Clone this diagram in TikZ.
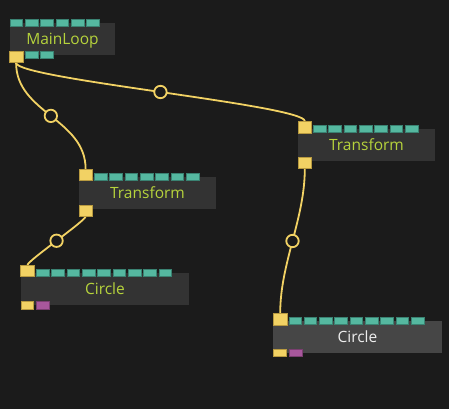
\documentclass[tikz,border=0pt]{standalone}
\usepackage{fontspec}
\setmainfont{Open Sans}
\definecolor{bg}{HTML}{1B1B1B}
\definecolor{body}{HTML}{333333}
\definecolor{bodysel}{HTML}{464646}
\definecolor{teal}{HTML}{55B8A0}
\definecolor{tealdk}{HTML}{3A8272}
\definecolor{yel}{HTML}{F2D264}
\definecolor{yeldk}{HTML}{B89A40}
\definecolor{mag}{HTML}{A8579C}
\definecolor{magdk}{HTML}{7A3E70}
\definecolor{lbl}{HTML}{B6D33C}
\definecolor{lblsel}{HTML}{EDEDED}
\begin{document}
\begin{tikzpicture}[x=1pt,y=-1pt,
  tealp/.style={rectangle, fill=teal, draw=tealdk, line width=0.5pt, inner sep=0pt, minimum width=12.6pt, minimum height=7.4pt},
  smallyel/.style={rectangle, fill=yel, draw=yeldk, line width=0.5pt, inner sep=0pt, minimum width=12.6pt, minimum height=7.4pt},
  magp/.style={rectangle, fill=mag, draw=magdk, line width=0.5pt, inner sep=0pt, minimum width=13pt, minimum height=7.4pt},
  bigyel/.style={rectangle, fill=yel, draw=yeldk, line width=0.5pt, inner sep=0pt, minimum width=13.6pt, minimum height=11.4pt},
  title/.style={font=\fontsize{15.5}{18}\selectfont, text=lbl, anchor=base, inner sep=0pt},
  wire/.style={draw=yel, line width=1.8pt},
  knot/.style={circle, draw=yel, fill=bg, line width=1.8pt, minimum size=12.4pt, inner sep=0pt}]
\fill[bg] (0,0) rectangle (449,409);
\useasboundingbox (0,0) rectangle (449,409);

% MainLoop
\fill[body] (10,23) rectangle (115,55);
\node[title] (ml) at (62.5,44.6) {MainLoop};
\foreach \k in {0,...,5} \node[tealp] (ml-i\k) at ({16.4+15.3*\k},23) {};
\node[bigyel] (mlout) at (16.1,56.9) {};
\foreach \k in {1,2} \node[tealp] (ml-o\k) at ({16.4+15.3*\k},54.7) {};

% Transform 1
\fill[body] (79,176.7) rectangle (216,208.7);
\node[title] (t1) at (147.5,198.2) {Transform};
\foreach \k in {1,...,7} \node[tealp] (t1-i\k) at ({85.4+15.3*\k},176.5) {};
\node[bigyel] (t1in) at (85.6,174.9) {};
\node[bigyel] (t1out) at (85.6,210.6) {};

% Circle 1
\fill[body] (21,272.7) rectangle (189,305);
\node[title] (c1) at (105,294.6) {Circle};
\foreach \k in {1,...,9} \node[tealp] (c1-i\k) at ({27.4+15.3*\k},272.6) {};
\node[bigyel] (c1in) at (27.5,270.9) {};
\node[smallyel] (c1-o0) at (27.4,305.4) {};
\node[magp] (c1-o1) at (43,305.4) {};

% Transform 2
\fill[body] (298,129) rectangle (435,161);
\node[title] (t2) at (366.5,150.5) {Transform};
\foreach \k in {1,...,7} \node[tealp] (t2-i\k) at ({304.4+15.3*\k},128.6) {};
\node[bigyel] (t2in) at (304.8,127.1) {};
\node[bigyel] (t2out) at (304.8,162.9) {};

% Circle 2 (selected)
\fill[bodysel] (273.3,320.7) rectangle (441.7,352.7);
\node[title, text=lblsel] (c2) at (357.5,342.4) {Circle};
\foreach \k in {1,...,9} \node[tealp] (c2-i\k) at ({279.8+15.3*\k},320.9) {};
\node[bigyel] (c2in) at (280.2,319.1) {};
\node[smallyel] (c2-o0) at (279.8,352.8) {};
\node[magp] (c2-o1) at (295.8,352.8) {};

% wires
\draw[wire] (mlout.south) .. controls +(0,50) and +(0,-50) .. (t1in.north) node[knot,pos=0.5] (k1) {};
\draw[wire] (mlout.south) .. controls +(0,16) and +(0,-16) .. (t2in.north) node[knot,pos=0.5] (k2) {};
\draw[wire] (t1out.south) .. controls +(0,4) and +(0,-4) .. (c1in.north) node[knot,pos=0.5] (k3) {};
\draw[wire] (t2out.south) .. controls +(0,50) and +(0,-50) .. (c2in.north) node[knot,pos=0.5] (k4) {};
% redraw ports over wires
\node[bigyel] at (mlout) {};
\node[bigyel] at (t1in) {};
\node[bigyel] at (t1out) {};
\node[bigyel] at (c1in) {};
\node[bigyel] at (t2in) {};
\node[bigyel] at (t2out) {};
\node[bigyel] at (c2in) {};
\end{tikzpicture}
\end{document}
